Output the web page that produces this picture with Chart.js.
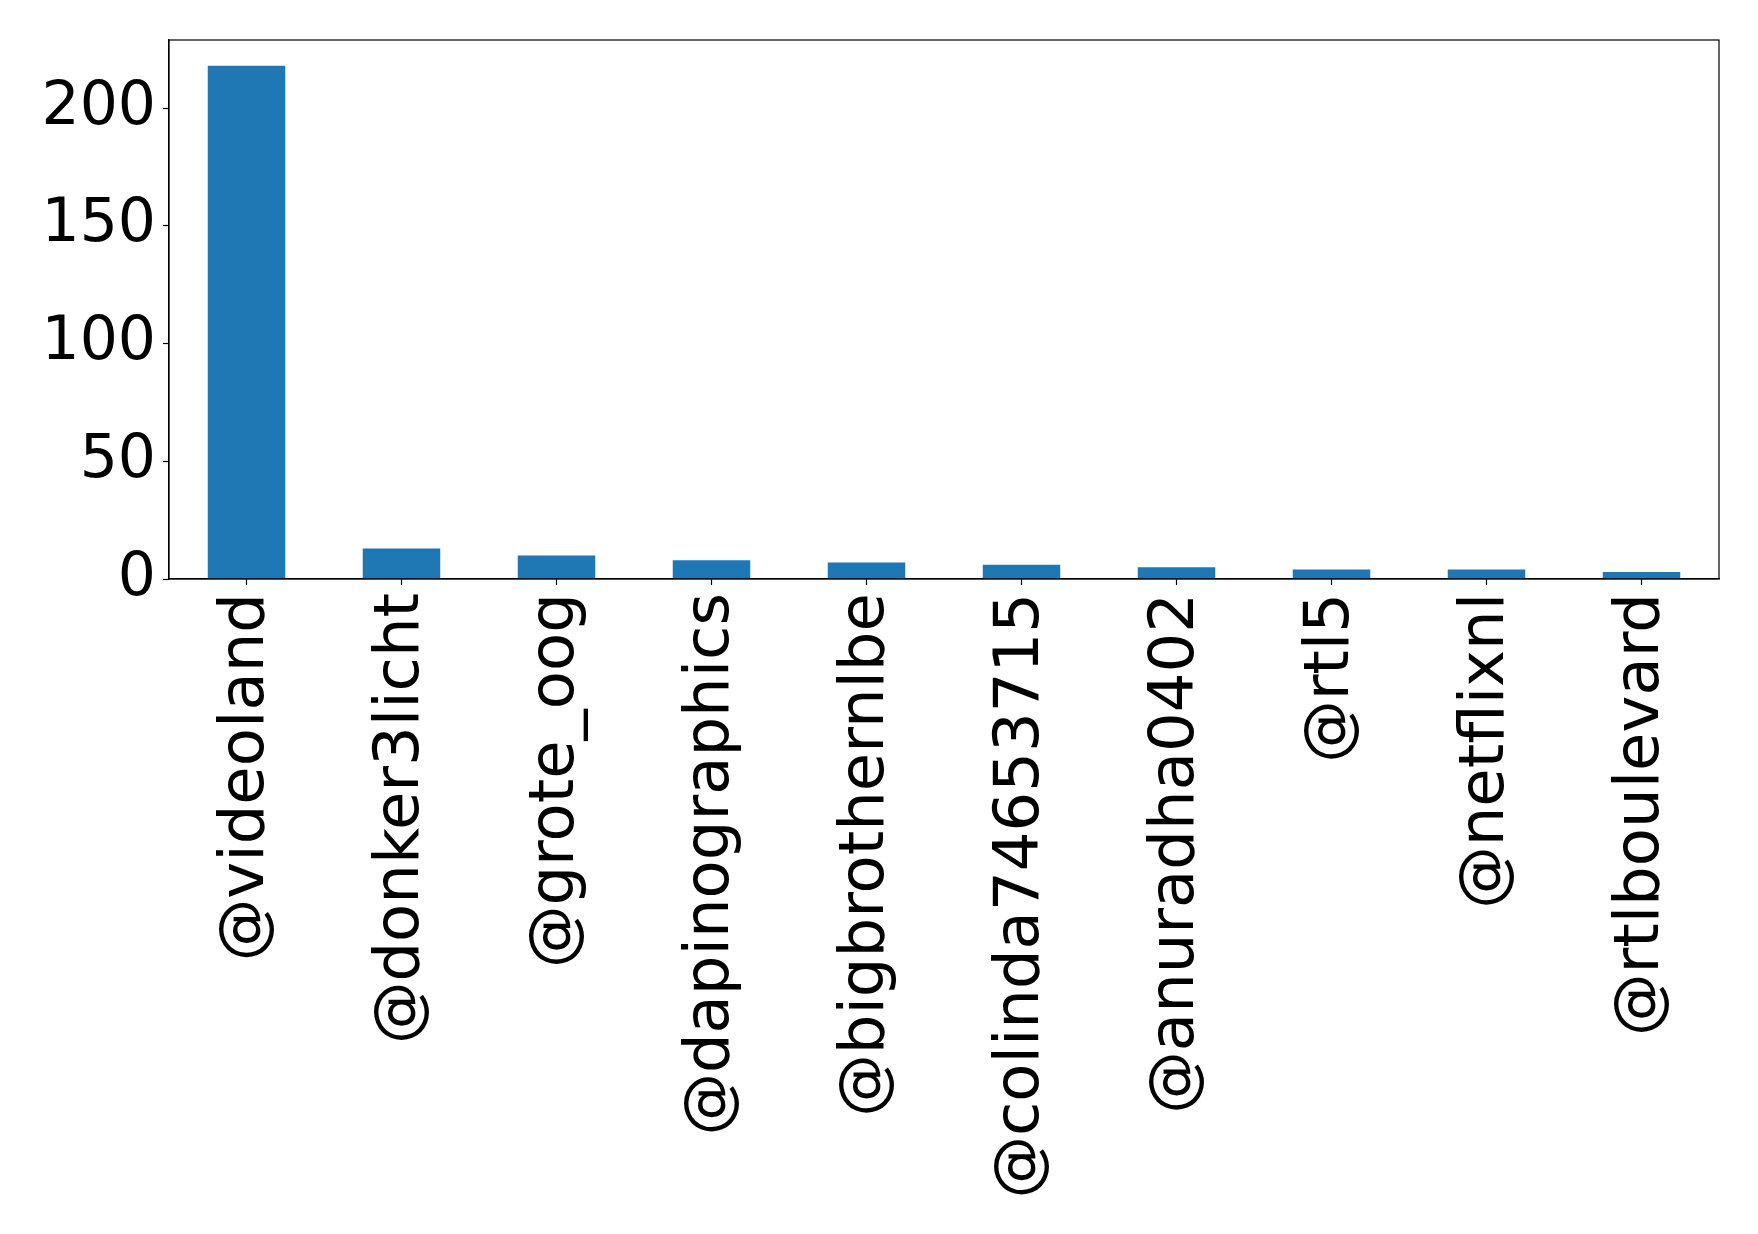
<!DOCTYPE html>
<html>
<head>
<meta charset="utf-8">
<script src="https://cdn.jsdelivr.net/npm/chart.js@4/dist/chart.umd.min.js"></script>
<style>
  html, body { margin: 0; padding: 0; background: #fff; }
  #wrap { width: 1758px; height: 1234px; }
</style>
</head>
<body>
<div id="wrap"><canvas id="mentionsChart" width="1758" height="1234"></canvas></div>
<script>
const accounts = [
  "@videoland", "@donker3licht", "@grote_oog", "@dapinographics", "@bigbrothernlbe",
  "@colinda74653715", "@anuradha0402", "@rtl5", "@netflixnl", "@rtlboulevard"
];
const mentionCounts = [218, 13, 10, 8, 7, 6, 5, 4, 4, 3];
const yTicks = [0, 50, 100, 150, 200];

Chart.defaults.font.family = "'DejaVu Sans', sans-serif";
Chart.defaults.color = "#000";

// matplotlib style frame round the plot area
const frameBox = {
  id: "frameBox",
  afterDraw(chart) {
    const { ctx, chartArea: a } = chart;
    ctx.save();
    ctx.strokeStyle = "#000";
    ctx.lineWidth = 1.2;
    ctx.strokeRect(a.left, a.top, a.right - a.left, a.bottom - a.top);
    ctx.restore();
  }
};

const canvas = document.getElementById("mentionsChart");

new Chart(canvas, {
  type: "bar",
  data: {
    labels: accounts,
    datasets: [{
      data: mentionCounts,
      backgroundColor: "#1f77b4",
      borderWidth: 0,
      categoryPercentage: 1,
      barPercentage: 0.5
    }]
  },
  options: {
    responsive: false,
    animation: false,
    layout: { padding: { left: 0, top: 40, right: 39, bottom: 0 } },
    plugins: {
      legend: { display: false },
      tooltip: { enabled: false }
    },
    scales: {
      x: {
        grid: { offset: false, drawOnChartArea: false, tickLength: 6, tickColor: "#000", tickWidth: 1.2 },
        border: { color: "#000", width: 1.2 },
        ticks: { font: { size: 62.5 }, minRotation: 90, maxRotation: 90, padding: 8, autoSkip: false },
        afterFit(scale) {
          scale.height = 1234 - 579;
          scale.paddingLeft = 0;
          scale.paddingRight = 0;
        }
      },
      y: {
        min: 0,
        max: Math.max(...mentionCounts) * 1.05,
        grid: { drawOnChartArea: false, tickLength: 6, tickColor: "#000", tickWidth: 1.2 },
        border: { color: "#000", width: 1.2 },
        afterBuildTicks(scale) { scale.ticks = yTicks.map(v => ({ value: v })); },
        ticks: { font: { size: 60 }, padding: 7 },
        afterFit(scale) {
          scale.width = 169;
          scale.paddingTop = 0;
          scale.paddingBottom = 0;
        }
      }
    }
  },
  plugins: [frameBox]
});
</script>
</body>
</html>
